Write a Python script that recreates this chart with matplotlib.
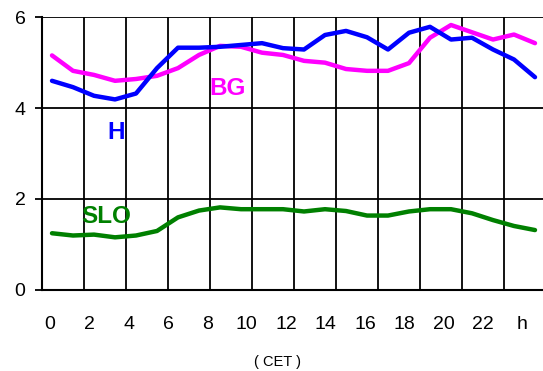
import matplotlib.pyplot as plt
import numpy as np

plt.rcParams["font.family"] = ["Liberation Sans", "DejaVu Sans"]

# Hourly values, hours 0..23 (CET)
hours = np.arange(24)
h_vals = [4.60, 4.46, 4.27, 4.19, 4.32, 4.88, 5.33, 5.33, 5.35, 5.39, 5.43, 5.32,
          5.29, 5.61, 5.70, 5.56, 5.29, 5.66, 5.79, 5.51, 5.55, 5.29, 5.07, 4.68]
bg_vals = [5.16, 4.82, 4.73, 4.60, 4.64, 4.71, 4.88, 5.17, 5.37, 5.35, 5.22, 5.17,
           5.04, 5.00, 4.86, 4.82, 4.82, 4.99, 5.55, 5.83, 5.67, 5.51, 5.62, 5.43]
slo_vals = [1.24, 1.19, 1.21, 1.15, 1.19, 1.29, 1.59, 1.74, 1.81, 1.77, 1.77, 1.77,
            1.72, 1.77, 1.73, 1.63, 1.63, 1.72, 1.77, 1.77, 1.68, 1.53, 1.40, 1.31]

x_labels = ["0", "2", "4", "6", "8", "10", "12", "14", "16", "18", "20", "22", "h"]
y_ticks = [0, 2, 4, 6]


def plot_chart():
    fig = plt.figure(figsize=(5.43, 3.71), dpi=100)
    ax = fig.add_axes([41.5 / 543, 81.5 / 371, 504 / 543, 272.2 / 371])

    ax.plot(hours, bg_vals, color="#FF00FF", lw=3.2, solid_capstyle="round", zorder=3)
    ax.plot(hours, h_vals, color="#0000FF", lw=3.2, solid_capstyle="round", zorder=4)
    ax.plot(hours, slo_vals, color="#008000", lw=3.2, solid_capstyle="round", zorder=3)

    ax.set_xlim(-0.5, 23.5)
    ax.set_ylim(0, 6)

    # vertical grid every 2 hours at category boundaries
    for xv in np.arange(1.5, 23.5, 2):
        ax.axvline(xv, color="black", lw=1.3, zorder=1)
    for yv in y_ticks[1:]:
        ax.axhline(yv, color="black", lw=1.3, zorder=1)

    ax.set_xticks(np.linspace(-0.1, 22.4, 13))
    ax.set_xticklabels(x_labels, fontsize=14)
    ax.tick_params(axis="x", length=0, pad=19)
    ax.set_yticks(y_ticks)
    ax.set_yticklabels([str(v) for v in y_ticks], fontsize=14)
    ax.tick_params(axis="y", length=5, width=1.3, pad=6.5)

    for s in ["top", "right"]:
        ax.spines[s].set_visible(False)
    for s in ["left", "bottom"]:
        ax.spines[s].set_linewidth(1.5)

    ax.text(8.38, 4.44, "BG", color="#FF00FF", fontsize=17.5, fontweight="bold",
            ha="center", va="center")
    ax.text(3.05, 3.47, "H", color="#0000FF", fontsize=17.5, fontweight="bold",
            ha="center", va="center")
    ax.text(2.57, 1.60, "SLO", color="#008000", fontsize=17.5, fontweight="bold",
            ha="center", va="center")

    fig.text(277 / 543, 1 - 362 / 371, "( CET )", fontsize=10.5, ha="center", va="center")

    fig.savefig("out.png", dpi=100)
    plt.close(fig)


if __name__ == "__main__":
    plot_chart()
